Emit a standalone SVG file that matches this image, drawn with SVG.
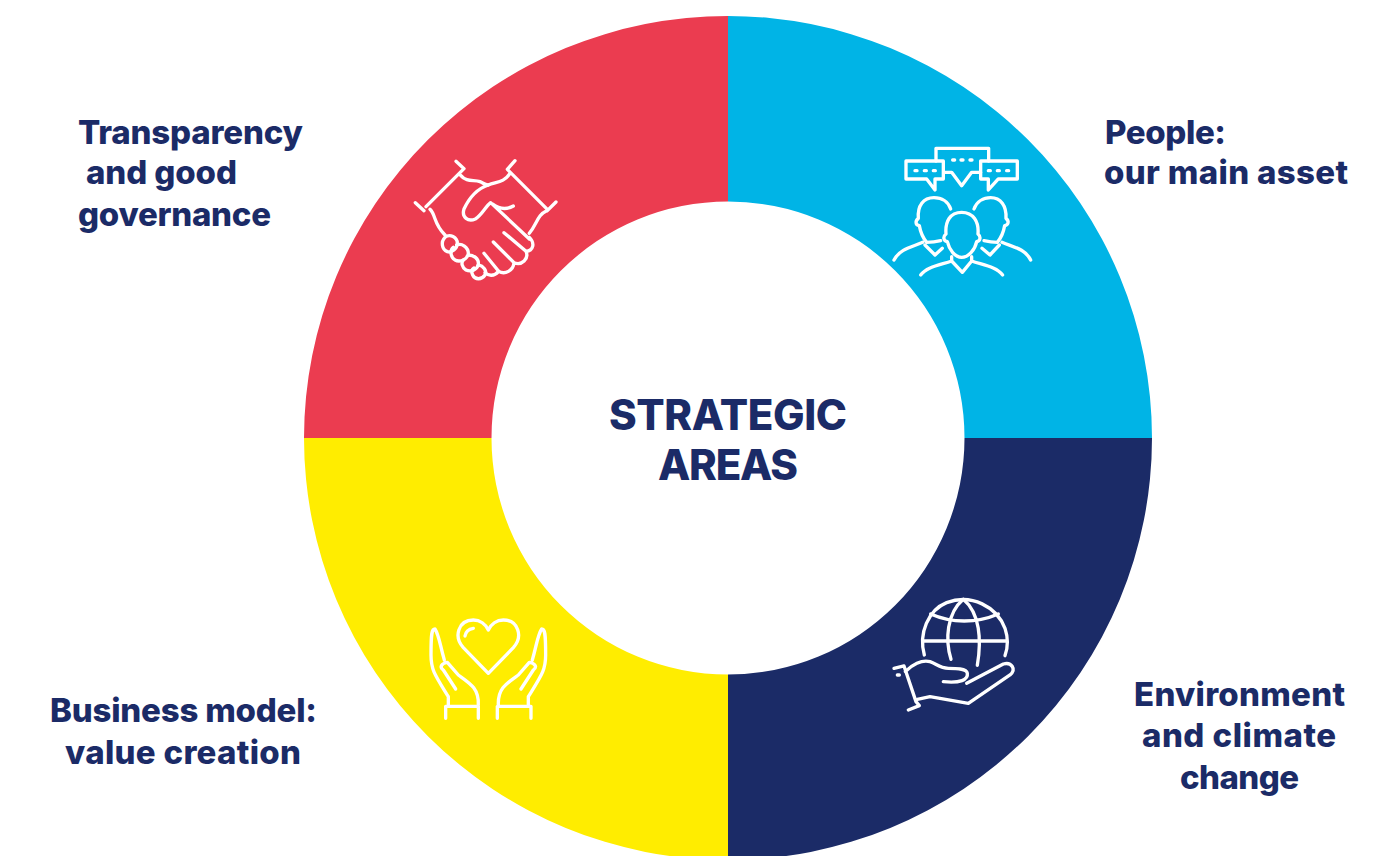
<svg xmlns="http://www.w3.org/2000/svg" width="1400" height="856" viewBox="0 0 1400 856">
<style>
.t{font-family:"Inter","Lato","Liberation Sans",sans-serif;font-weight:800;font-size:33px;fill:#1b2b67}
.c{font-size:42px;text-anchor:middle}
.i{fill:none;stroke:#fff;stroke-width:10;stroke-linecap:round;stroke-linejoin:round}
</style>
<rect width="1400" height="856" fill="#fff"/>
<g id="segment-transparency"><path d="M728 16A424 422 0 0 0 304 438H491.500A236.500 236.500 0 0 1 728 201.500Z" fill="#eb3c50"/></g>
<g id="segment-people"><path d="M728 16A424 422 0 0 1 1152 438H964.500A236.500 236.500 0 0 0 728 201.500Z" fill="#00b4e6"/></g>
<g id="segment-environment"><path d="M1152 438A424 422 0 0 1 728 860V674.500A236.500 236.500 0 0 0 964.500 438Z" fill="#1b2b67"/></g>
<g id="segment-business"><path d="M304 438A424 422 0 0 0 728 860V674.500A236.500 236.500 0 0 1 491.500 438Z" fill="#ffed00"/></g>
<g id="center"><text class="t c" x="728" y="430" textLength="238">STRATEGIC</text><text class="t c" x="728" y="480" textLength="140">AREAS</text></g>
<g id="icon-handshake" class="i" transform="translate(400 140) scale(.3333)">
<path d="M168 64L192 86L78 200M46 188L72 212M345 62L322 88L442 208M468 186L442 212"/>
<path d="M182 106C200 128 222 118 240 125C250 129 256 136 265 135C290 125 312 128 330 100"/>
<path d="M265 135C232 146 207 175 192 207C184 233 205 246 226 237C246 225 256 200 272 188L388 297M278 192C295 205 315 212 340 198"/>
<path d="M90 208C108 225 100 250 135 285M440 212C412 225 412 250 388 280"/>
<path d="M388 292C406 310 400 332 378 334L312 278M378 334C388 356 365 378 342 368L280 306M342 368C340 392 315 405 296 394L252 340"/>
<path d="M296 394C282 410 265 408 255 398"/>
<path d="M135 292C150 280 172 292 172 310C172 325 155 340 142 335C125 328 122 305 135 292Z"/>
<path d="M170 315C185 308 205 322 205 340C203 358 180 368 165 360C150 350 150 330 160 322"/>
<path d="M205 345C220 345 237 355 235 373C232 390 212 397 198 390C185 382 183 368 190 360"/>
<path d="M235 375C250 378 262 392 255 405C245 420 225 420 218 405C213 395 216 388 222 384"/>
</g>
<g id="icon-people" class="i" transform="translate(880 135) scale(.3333)">
<path d="M190 78H78V132H140L165 165V132H190Z"/>
<path d="M302 78H412V132H355L325 165V132H302Z"/>
<path d="M168 78V40H326V78M192 112H215L245 152L275 112H302"/>
<path d="M105 107H111M133 107H139M160 107H166M218 75H224M243 75H249M270 75H276M325 107H331M352 107H358M380 107H386"/>
<path d="M212 222C205 200 185 188 162 188C130 188 112 212 115 250C105 258 106 270 118 272C122 295 130 310 140 322C155 322 170 320 182 317"/>
<path d="M128 322C100 335 60 340 42 375M135 330L165 360L187 340"/>
<path d="M282 222C290 200 310 188 332 188C362 188 380 212 378 250C388 258 386 270 374 272C370 295 362 310 352 322C340 322 325 320 312 317"/>
<path d="M366 322C395 335 435 340 452 375M358 330L330 360L306 340"/>
<path d="M245 232C210 232 195 260 198 297C188 305 190 317 202 320C208 345 225 367 245 367C265 367 285 345 290 320C302 317 303 305 294 297C297 260 280 232 245 232Z"/>
<path d="M215 365V378C180 390 140 395 122 420M275 365V378C310 390 350 395 368 420M215 378L247 412L275 378"/>
</g>
<g id="icon-hands" class="i" transform="translate(415 605) scale(.3333)">
<path d="M220 205L145 128C115 95 130 45 175 45C195 45 212 58 220 75C228 58 245 45 265 45C310 45 325 95 295 128Z"/>
<path d="M150 93C152 80 162 72 175 70"/>
<path d="M92 340V304H190V340M100 300V275C60 210 48 195 48 150C48 85 50 72 60 72C72 90 75 120 88 165M190 300C192 250 165 235 130 210L97 172C80 175 72 185 85 195L122 252"/>
<path d="M348 340V304H247V340M340 300V275C380 210 392 195 392 150C392 85 390 72 380 72C368 90 365 120 352 165M250 300C248 250 275 235 310 210L343 172C360 175 368 185 355 195L318 252"/>
</g>
<g id="icon-globe" class="i" transform="translate(880 590) scale(.3333)">
<path d="M133 195C115 130 145 60 200 38C275 10 350 50 375 115C385 145 385 170 375 197"/>
<path d="M213 208C195 150 200 70 250 28C300 70 305 150 292 226"/>
<path d="M152 72C215 100 290 100 355 72M128 153H380"/>
<path d="M42 235L72 228L108 335M85 360L118 347L108 335M76 245C95 225 125 208 150 215C170 222 180 235 205 235C225 235 260 235 262 250C265 270 240 280 190 275"/>
<path d="M260 280L370 222C395 215 410 238 390 255L265 340L150 320L112 328"/>
<path d="M52 255H58"/>
</g>
<g id="label-transparency"><text class="t" x="78" y="144" textLength="225">Transparency</text><text class="t" x="86" y="184" textLength="151">and good</text><text class="t" x="78" y="226" textLength="193">governance</text></g>
<g id="label-people"><text class="t" x="1105" y="144" textLength="121">People:</text><text class="t" x="1104" y="184" textLength="244">our main asset</text></g>
<g id="label-business"><text class="t" x="50" y="722" textLength="267">Business model:</text><text class="t" x="65" y="764" textLength="236">value creation</text></g>
<g id="label-environment"><text class="t" x="1134" y="706" textLength="211">Environment</text><text class="t" x="1142" y="747" textLength="194">and climate</text><text class="t" x="1180" y="789" textLength="119">change</text></g>
</svg>
